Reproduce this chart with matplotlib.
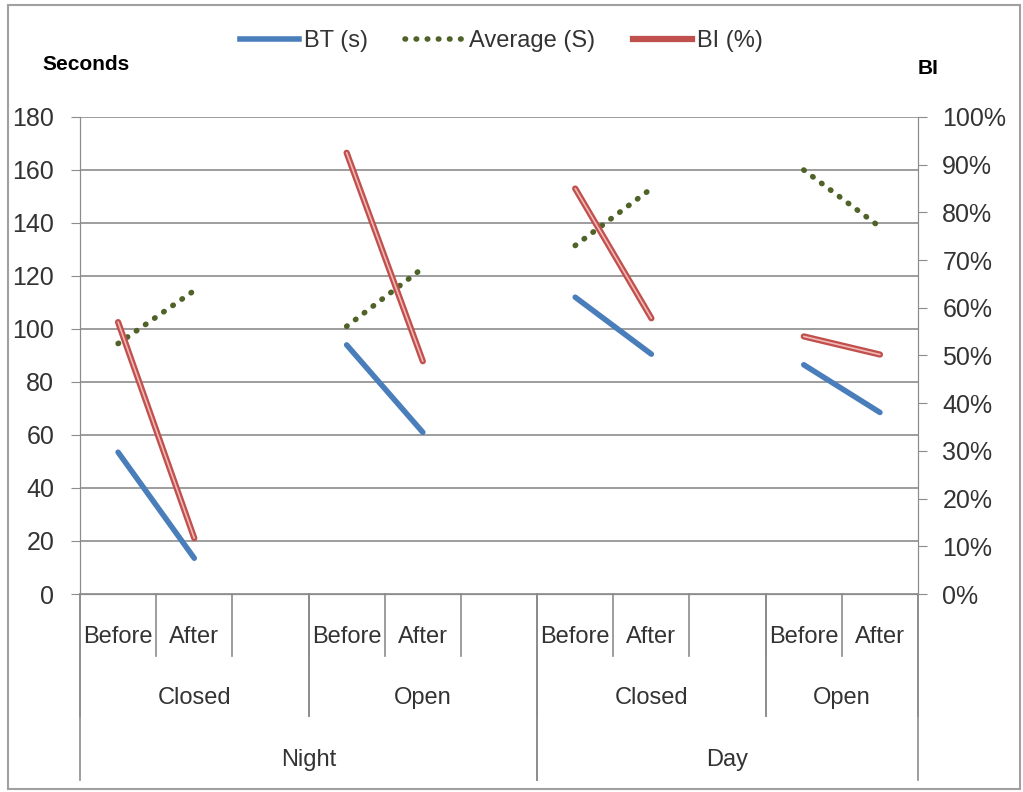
import matplotlib.pyplot as plt
from matplotlib.patches import Rectangle
from matplotlib.ticker import PercentFormatter

plt.rcParams['font.family'] = ['Liberation Sans Narrow', 'Liberation Sans', 'DejaVu Sans']

# slot labels along the x axis (blank slots separate the groups)
slot_labels = ["Before", "After", "", "Before", "After", "", "Before", "After", "", "Before", "After"]
group_labels = [("Closed", 0, 3), ("Open", 3, 6), ("Closed", 6, 9), ("Open", 9, 11)]
period_labels = [("Night", 0, 6), ("Day", 6, 11)]

# one (before, after) pair per group: slot indices of the pair
pair_slots = [(0, 1), (3, 4), (6, 7), (9, 10)]

bt_seconds = [53.5, 13.5, 94, 61, 112, 90.5, 86.5, 68.5]
avg_seconds = [94.5, 114.5, 101, 123, 131.5, 153, 160, 138.5]
bi_percent = [57, 11.7, 92.5, 48.8, 85, 57.8, 54, 50.2]

BLUE = "#4a7ebb"
GREEN = "#4f6228"
RED = "#c0504d"
RED_IN = "#f2b8b6"
GRID = "#8c8c8c"
DOTS = (0, (0.1, 1.9))

fig = plt.figure(figsize=(10.23, 7.92), dpi=100)
fig.patches.append(Rectangle((0.008, 0.004), 0.989, 0.99, transform=fig.transFigure,
                             fill=False, edgecolor="#a0a0a0", linewidth=1.5))

ax = fig.add_axes([0.0782, 0.25, 0.8192, 0.6023])
ax2 = ax.twinx()

for k, (i, j) in enumerate(pair_slots):
    xs = [i + 0.5, j + 0.5]
    ax.plot(xs, bt_seconds[2 * k:2 * k + 2], color=BLUE, linewidth=4, solid_capstyle="round", zorder=3)
    ax.plot(xs, avg_seconds[2 * k:2 * k + 2], color=GREEN, linewidth=4, linestyle=DOTS,
            dash_capstyle="round", zorder=3)
    ax2.plot(xs, bi_percent[2 * k:2 * k + 2], color=RED, linewidth=4.5, solid_capstyle="round", zorder=3)
    ax2.plot(xs, bi_percent[2 * k:2 * k + 2], color=RED_IN, linewidth=1.2, solid_capstyle="round", zorder=4)

ax.set_xlim(0, 11)
ax.set_ylim(0, 180)
ax.set_yticks(range(0, 181, 20))
ax.yaxis.grid(True, color=GRID, linewidth=1.2)
ax.set_axisbelow(True)
ax.set_xticks([])
ax2.set_ylim(0, 100)
ax2.set_yticks(range(0, 101, 10))
ax2.yaxis.set_major_formatter(PercentFormatter(decimals=0))

for a in (ax, ax2):
    a.spines["top"].set_visible(False)
    for side in ("left", "right", "bottom"):
        a.spines[side].set_color(GRID)
ax.tick_params(axis="y", labelsize=18, colors="#333333", length=6.5, color=GRID, pad=12)
ax2.tick_params(axis="y", labelsize=18, colors="#333333", length=6.5, color=GRID, pad=11)

# multi-level category axis
tr = ax.get_xaxis_transform()
sep_kw = dict(color=GRID, linewidth=1.2, transform=tr, clip_on=False)
for s in range(1, 11):
    ax.plot([s, s], [0, -0.13], **sep_kw)
for _, a0, a1 in group_labels:
    for b in (a0, a1):
        ax.plot([b, b], [0, -0.256], **sep_kw)
for _, a0, a1 in period_labels:
    for b in (a0, a1):
        ax.plot([b, b], [0, -0.39], **sep_kw)

for s, lab in enumerate(slot_labels):
    ax.text(s + 0.5, -0.09, lab, transform=tr, ha="center", va="center", fontsize=17, color="#333333")
for lab, a0, a1 in group_labels:
    ax.text((a0 + a1) / 2, -0.218, lab, transform=tr, ha="center", va="center", fontsize=17, color="#333333")
for lab, a0, a1 in period_labels:
    ax.text((a0 + a1) / 2, -0.347, lab, transform=tr, ha="center", va="center", fontsize=17, color="#333333")

fig.text(0.041, 0.918, "Seconds", fontsize=15, fontweight="bold", ha="left", va="center")
fig.text(0.897, 0.913, "BI", fontsize=15, fontweight="bold", ha="left", va="center")

h1, = ax.plot([], [], color=BLUE, linewidth=4)
h2, = ax.plot([], [], color=GREEN, linewidth=4, linestyle=DOTS, dash_capstyle="round")
h3, = ax.plot([], [], color=RED, linewidth=4.5)
fig.legend([h1, h2, h3], ["BT (s)", "Average (S)", "BI (%)"], loc="center", bbox_to_anchor=(0.49, 0.948),
           ncol=3, frameon=False, fontsize=17, handlelength=2.5, columnspacing=1.6, handletextpad=0.2,
           labelcolor="#333333")

fig.savefig("out.png", dpi=100)
